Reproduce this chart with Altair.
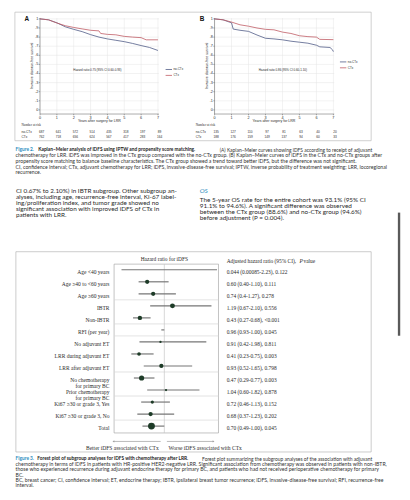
import altair as alt
import pandas as pd

# ---------------- data: Kaplan-Meier panels ----------------
groups = ["no-CTx", "CTx"]
group_colors = ["#4f5b86", "#bf5a63"]
year_ticks = [0, 1, 2, 3, 4, 5, 6, 7]
surv_ticks = [0, 0.1, 0.2, 0.3, 0.4, 0.5, 0.6, 0.7, 0.8, 0.9, 1.0]
surv_labels = ["0", ".1", ".2", ".3", ".4", ".5", ".6", ".7", ".8", ".9", "1"]

a_t_noctx = [0, 0.5, 1, 1.5, 2, 2.5, 3, 3.5, 4, 4.5, 5, 5.5, 6, 6.5, 7]
a_s_noctx = [1.0, 0.99, 0.957, 0.913, 0.885, 0.86, 0.827, 0.80, 0.78, 0.765, 0.75, 0.73, 0.707, 0.686, 0.653]
a_t_ctx = [0, 0.5, 1, 1.5, 2, 2.5, 3, 3.5, 3.6, 4, 4.5, 5, 5.5, 6, 6.3, 7]
a_s_ctx = [1.0, 0.99, 0.955, 0.925, 0.906, 0.89, 0.875, 0.868, 0.84, 0.83, 0.825, 0.808, 0.80, 0.794, 0.77, 0.77]

b_t_noctx = [0, 0.5, 1, 1.1, 1.5, 2, 2.5, 3, 3.5, 4, 4.5, 5, 5.5, 6, 6.2, 6.8, 6.95, 7]
b_s_noctx = [1.0, 0.99, 0.957, 0.888, 0.875, 0.863, 0.823, 0.787, 0.78, 0.77, 0.755, 0.744, 0.733, 0.711, 0.693, 0.686, 0.66, 0.64]
b_t_ctx = [0, 0.5, 1, 1.5, 2, 2.5, 3, 3.5, 4, 4.5, 5, 5.5, 6, 6.2, 7]
b_s_ctx = [1.0, 0.99, 0.965, 0.935, 0.92, 0.90, 0.885, 0.88, 0.855, 0.84, 0.815, 0.805, 0.80, 0.775, 0.772]

a_risk_noctx = [687, 641, 572, 514, 435, 318, 197, 89]
a_risk_ctx = [762, 718, 656, 624, 567, 417, 283, 164]
b_risk_noctx = [135, 127, 110, 97, 81, 63, 40, 20]
b_risk_ctx = [188, 176, 159, 149, 137, 94, 60, 33]

a_hr_text = "Hazard ratio 0.75 (95% CI 0.60-0.93)"
b_hr_text = "Hazard ratio 0.86 (95% CI 0.60-1.10)"

# ---------------- data: forest plot ----------------
sub_labels = ["Age <40 years", "Age \u226540 to <60 years", "Age \u226560 years", "IBTR", "Non-IBTR",
              "RFI (per year)", "No adjuvant ET", "LRR during adjuvant ET", "LRR after adjuvant ET",
              "No chemotherapy|for primary BC", "Prior chemotherapy|for primary BC",
              "Ki67 \u226530 or grade 3, Yes", "Ki67 \u226530 or grade 3, No", "Total"]
hr = [0.044, 0.60, 0.74, 1.19, 0.43, 0.96, 0.91, 0.41, 0.93, 0.47, 1.04, 0.72, 0.68, 0.70]
ci_lo = [0.00085, 0.40, 0.40, 0.67, 0.27, 0.93, 0.42, 0.23, 0.52, 0.29, 0.60, 0.46, 0.37, 0.49]
ci_hi = [2.23, 1.10, 1.27, 2.10, 0.68, 1.00, 1.98, 0.75, 1.65, 0.77, 1.82, 1.13, 1.23, 1.00]
result_text = ["0.044 (0.00085-2.23), 0.122", "0.60 (0.40-1.10), 0.111", "0.74 (0.4-1.27), 0.278",
               "1.19 (0.67-2.10), 0.556", "0.43 (0.27-0.68), <0.001", "0.96 (0.93-1.00), 0.045",
               "0.91 (0.42-1.98), 0.811", "0.41 (0.23-0.75), 0.003", "0.93 (0.52-1.65), 0.798",
               "0.47 (0.29-0.77), 0.003", "1.04 (0.60-1.82), 0.878", "0.72 (0.46-1.13), 0.152",
               "0.68 (0.37-1.23), 0.202", "0.70 (0.49-1.00), 0.045"]
weights = [0, 38, 38, 51, 41, 0, 11, 28, 38, 57, 11, 22, 38, 100]
group_ends = [2, 4, 5, 8, 10, 12]
ref_hr = [1.0]

# ---------------- text ----------------
fig2_label = "Figure 2."
fig2_title = "Kaplan\u2212Meier analysis of iDFS using IPTW and propensity score matching."
fig2_rest1 = "(A) Kaplan\u2212Meier curves showing iDFS according to receipt of adjuvant"
fig2_lines = [
    "chemotherapy for LRR. iDFS was improved in the CTx group compared with the no-CTx group. (B) Kaplan\u2212Meier curves of iDFS in the CTx and no-CTx groups after",
    "propensity score matching to balance baseline characteristics. The CTx group showed a trend toward better iDFS, but the difference was not significant.",
    "CI, confidence interval; CTx, adjuvant chemotherapy for LRR; iDFS, invasive-disease-free survival; IPTW, inverse probability of treatment weighting; LRR, locoregional",
    "recurrence.",
]
body_left = [
    "CI 0.67% to 2.10%) in IBTR subgroup. Other subgroup an-",
    "alyses, including age, recurrence-free interval, Ki-67 label-",
    "ing/proliferation index, and tumor grade showed no",
    "significant association with improved iDFS of CTx in",
    "patients with LRR.",
]
body_right_head = "OS"
body_right = [
    "The 5-year OS rate for the entire cohort was 93.1% (95% CI",
    "91.1% to 94.6%). A significant difference was observed",
    "between the CTx group (88.6%) and no-CTx group (94.6%)",
    "before adjustment (P = 0.004).",
]
fig3_label = "Figure 3."
fig3_title = "Forest plot of subgroup analyses for iDFS with chemotherapy after LRR."
fig3_rest1 = "Forest plot summarizing the subgroup analyses of the association with adjuvant"
fig3_lines = [
    "chemotherapy in terms of iDFS in patients with HR-positive HER2-negative LRR. Significant association from chemotherapy was observed in patients with non-IBTR,",
    "those who experienced recurrence during adjuvant endocrine therapy for primary BC, and patients who had not received perioperative chemotherapy for primary",
    "BC.",
    "BC, breast cancer; CI, confidence interval; ET, endocrine therapy; IBTR, ipsilateral breast tumor recurrence; iDFS, invasive-disease-free survival; RFI, recurrence-free",
    "interval.",
]

SANS = "Liberation Sans"
SERIF = "Liberation Serif"
CAP = "Lato"
TEAL = "#2b8cbe"
TXT = "#2a2a2a"
AX = "#555555"
GRID = "#e4e4e4"
dummy = pd.DataFrame({"v": [0]})


def txt(x, y, s, size, font=CAP, color=TXT, weight="normal", style="normal",
        align="left", baseline="middle", lh=None, angle=None):
    kw = dict(align=align, baseline=baseline, fontSize=size, font=font, color=color,
              fontWeight=weight, fontStyle=style)
    if lh is not None:
        kw["lineBreak"] = "\n"
        kw["lineHeight"] = lh
    if angle is not None:
        kw["angle"] = angle
    return alt.Chart(dummy).mark_text(**kw).encode(
        x=alt.value(x), y=alt.value(y), text=alt.value(s))


def rule(x, y, x2, y2, color, w):
    return alt.Chart(dummy).mark_rule(color=color, strokeWidth=w).encode(
        x=alt.value(x), y=alt.value(y), x2=alt.value(x2), y2=alt.value(y2))


# ---------------- KM panels (one layer group each, own scales) ----------------
KM_TOP, KM_BOT = 6.4, 103.9
X_DOM = [0, 7.05]
Y_DOM = [-0.045, 1.01]


def km_group(x0, x1, t_no, s_no, t_ct, s_ct, risk_no, risk_ct):
    xs = alt.Scale(domain=X_DOM, range=[x0, x1], nice=False, zero=False)
    ys = alt.Scale(domain=Y_DOM, range=[KM_BOT, KM_TOP], nice=False, zero=False)
    curves = pd.concat([
        pd.DataFrame({"t": t_no, "s": s_no, "group": groups[0]}),
        pd.DataFrame({"t": t_ct, "s": s_ct, "group": groups[1]}),
    ])
    xt = alt.Chart(pd.DataFrame({"t": year_ticks}))
    yt = alt.Chart(pd.DataFrame({"s": surv_ticks, "lab": surv_labels}))
    X = lambda f: alt.X(f, scale=xs, axis=None)
    Y = lambda f: alt.Y(f, scale=ys, axis=None)
    layers = [
        xt.mark_rule(color=GRID, strokeWidth=0.5).encode(x=X("t:Q"), y=alt.value(KM_TOP), y2=alt.value(KM_BOT)),
        yt.mark_rule(color=GRID, strokeWidth=0.5).encode(y=Y("s:Q"), x=alt.value(x0), x2=alt.value(x1)),
        rule(x0, KM_TOP, x0, KM_BOT, AX, 0.5),
        rule(x0, KM_BOT, x1, KM_BOT, AX, 0.5),
        xt.mark_rule(color=AX, strokeWidth=0.5).encode(x=X("t:Q"), y=alt.value(KM_BOT), y2=alt.value(KM_BOT + 1.3)),
        yt.mark_rule(color=AX, strokeWidth=0.5).encode(y=Y("s:Q"), x=alt.value(x0 - 1.3), x2=alt.value(x0)),
        xt.mark_text(fontSize=3.8, font=SANS, color=TXT, baseline="middle").encode(
            x=X("t:Q"), y=alt.value(KM_BOT + 3.6), text="t:N"),
        yt.mark_text(fontSize=3.8, font=SANS, color=TXT, baseline="middle", align="right").encode(
            y=Y("s:Q"), x=alt.value(x0 - 1.8), text="lab:N"),
        alt.Chart(curves).mark_line(strokeWidth=0.8).encode(
            x=X("t:Q"), y=Y("s:Q"),
            color=alt.Color("group:N", scale=alt.Scale(domain=groups, range=group_colors), legend=None)),
    ]
    for i, vals in enumerate([risk_no, risk_ct]):
        rdf = pd.DataFrame({"t": year_ticks, "n": vals})
        layers.append(alt.Chart(rdf).mark_text(fontSize=3.2, font=SANS, color=TXT, dx=1.6,
                                               baseline="middle").encode(
            x=X("t:Q"), y=alt.value(121.7 + 6 * i), text="n:N"))
    return alt.layer(*layers)


kmA = km_group(32.5, 153.1, a_t_noctx, a_s_noctx, a_t_ctx, a_s_ctx, a_risk_noctx, a_risk_ctx)
kmB = km_group(209.7, 331.2, b_t_noctx, b_s_noctx, b_t_ctx, b_s_ctx, b_risk_noctx, b_risk_ctx)


def km_text(x0, letter, letter_x, hr_text, hr_xy, leg_x, leg_y, risk_x):
    out = [
        txt(letter_x, 7.5, letter, 6.5, font=SANS, weight="bold", color="#111", align="center"),
        txt(hr_xy[0], hr_xy[1], hr_text, 3.0, font=SANS, align="center"),
        txt(x0 + 60.3, 110.6, "Years after surgery for LRR", 3.6, font=SANS, align="center"),
        txt(x0 - 7.8, (KM_TOP + KM_BOT) / 2, "Invasive disease-free survival", 3.6, font=SANS,
            align="center", angle=270),
        txt(risk_x, 114.7, "Number at risk", 3.3, font=SERIF),
    ]
    for i, g in enumerate(groups):
        yy = leg_y + 6 * i
        out.append(rule(leg_x, yy, leg_x + 6.5, yy, group_colors[i], 0.8))
        out.append(txt(leg_x + 8, yy, g, 3.0, font=SANS))
        out.append(txt(risk_x, 121.7 + 6 * i, g, 3.2, font=SANS))
    return out


km_texts = (km_text(32.5, "A", 19, a_hr_text, (90.7, 59), 160, 58.7, 13.7)
            + km_text(209.7, "B", 197, b_hr_text, (279, 59.3), 337, 51, 190.5))
km_frame = alt.Chart(dummy).mark_rect(fill="transparent", stroke="#b0b0b0", strokeWidth=0.6).encode(
    x=alt.value(7), x2=alt.value(368.7), y=alt.value(0.5), y2=alt.value(131))

# ---------------- forest plot (own scales) ----------------
FX0, FX1, FY0, FY1 = 107.7, 213.7, 256.3, 427.7
fx = alt.Scale(domain=[-0.172, 2.264], range=[FX0, FX1], nice=False, zero=False)
fy = alt.Scale(domain=[-0.47, 13.57], range=[FY0, FY1], nice=False, zero=False)
fdf = pd.DataFrame({"idx": list(range(len(sub_labels))), "label": sub_labels, "hr": hr,
                    "lo": ci_lo, "hi": ci_hi, "res": result_text, "w": weights})
fbase = alt.Chart(fdf)
FXe = lambda f: alt.X(f, scale=fx, axis=None)
FYe = lambda f: alt.Y(f, scale=fy, axis=None)
forest = alt.layer(
    alt.Chart(pd.DataFrame({"b": [k + 0.5 for k in group_ends]})).mark_rule(
        color="#d6d6d6", strokeWidth=0.7).encode(y=FYe("b:Q"), x=alt.value(FX0), x2=alt.value(FX1)),
    alt.Chart(pd.DataFrame({"r": ref_hr})).mark_rule(color="#c4c4c4", strokeWidth=0.7).encode(
        x=FXe("r:Q"), y=alt.value(FY0), y2=alt.value(FY1)),
    fbase.mark_rule(color="#767676", strokeWidth=1.2).encode(x=FXe("lo:Q"), x2="hi:Q", y=FYe("idx:Q")),
    fbase.mark_circle(color="#1d3b27", opacity=1).encode(
        x=FXe("hr:Q"), y=FYe("idx:Q"),
        size=alt.Size("w:Q", scale=alt.Scale(domain=[0, 100], range=[0, 49]), legend=None)),
    fbase.mark_text(align="right", baseline="middle", font=SERIF, fontSize=5.6,
                    lineBreak="|", lineHeight=6.5, dy=2, color=TXT).encode(
        x=alt.value(103), y=FYe("idx:Q"), text="label:N"),
    fbase.mark_text(align="left", baseline="middle", font=SERIF, fontSize=5.5, dy=2,
                    color=TXT).encode(x=alt.value(222), y=FYe("idx:Q"), text="res:N"),
)
forest_frames = [
    alt.Chart(dummy).mark_rect(fill="transparent", stroke="#a8a8a8", strokeWidth=0.6).encode(
        x=alt.value(8), x2=alt.value(368.7), y=alt.value(243.7), y2=alt.value(447)),
    alt.Chart(dummy).mark_rect(fill="transparent", stroke="#9a9a9a", strokeWidth=0.6).encode(
        x=alt.value(FX0), x2=alt.value(FX1), y=alt.value(FY0), y2=alt.value(FY1)),
]
forest_texts = [
    txt(158.7, 251, "Hazard ratio for iDFS", 5.5, font=SERIF, align="center"),
    txt(222, 253, "Adjusted hazard ratio (95% CI),", 5.5, font=SERIF),
    txt(296, 253, "P", 5.5, font=SERIF, style="italic"),
    txt(300, 253, "value", 5.5, font=SERIF),
    rule(107, 436.3, 155, 436.3, "#8a8a8a", 0.6),
    rule(161.3, 436.3, 208.7, 436.3, "#8a8a8a", 0.6),
    alt.Chart(dummy).mark_point(shape="triangle-left", filled=True, color="#8a8a8a", size=5).encode(
        x=alt.value(107), y=alt.value(436.3)),
    alt.Chart(dummy).mark_point(shape="triangle-right", filled=True, color="#8a8a8a", size=5).encode(
        x=alt.value(208.7), y=alt.value(436.3)),
    txt(153, 443, "Better iDFS associated with CTx", 5.6, font=SERIF, align="right"),
    txt(163, 443, "Worse iDFS associated with CTx", 5.6, font=SERIF),
]

# ---------------- page text (multi-line blocks: y is the first line) ----------------
CS = 5.25
TS = 4.85   # first caption line (bold title + right-aligned remainder)
page_texts = [
    txt(7.7, 140.3, fig2_label, TS, color=TEAL, weight="bold"),
    txt(30.7, 140.3, fig2_title, TS, weight="bold", color="#1a1a1a"),
    txt(369.7, 140.3, fig2_rest1, 5.0, color="#333", align="right"),
    txt(7.7, 146.0, "\n".join(fig2_lines), CS, color="#333", lh=5.67),
    txt(8, 182.0, "\n".join(body_left), 6.45, lh=6.17),
    txt(194.7, 182, body_right_head, 6.6, color=TEAL, style="italic"),
    txt(194.7, 191.3, "\n".join(body_right), 6.45, lh=6.2),
    rule(397, 204, 397, 329, "#5a5a5a", 2.4),
    txt(7.7, 453.7, fig3_label, TS, color=TEAL, weight="bold"),
    txt(29.7, 453.7, fig3_title, TS, weight="bold", color="#1a1a1a"),
    txt(369.7, 453.7, fig3_rest1, 5.0, color="#333", align="right"),
    txt(7.7, 459.0, "\n".join(fig3_lines), CS, color="#333", lh=5.5),
]

chart = alt.layer(
    km_frame, kmA, kmB, *forest_frames, forest, *km_texts, *forest_texts, *page_texts
).resolve_scale(
    x="independent", y="independent", color="independent", size="independent"
).properties(
    width=400, height=490, padding=0, background="white",
    autosize=alt.AutoSizeParams(type="none"),
).configure_view(stroke="transparent")

chart.save("out.html", embed_options={"renderer": "svg", "actions": False})
